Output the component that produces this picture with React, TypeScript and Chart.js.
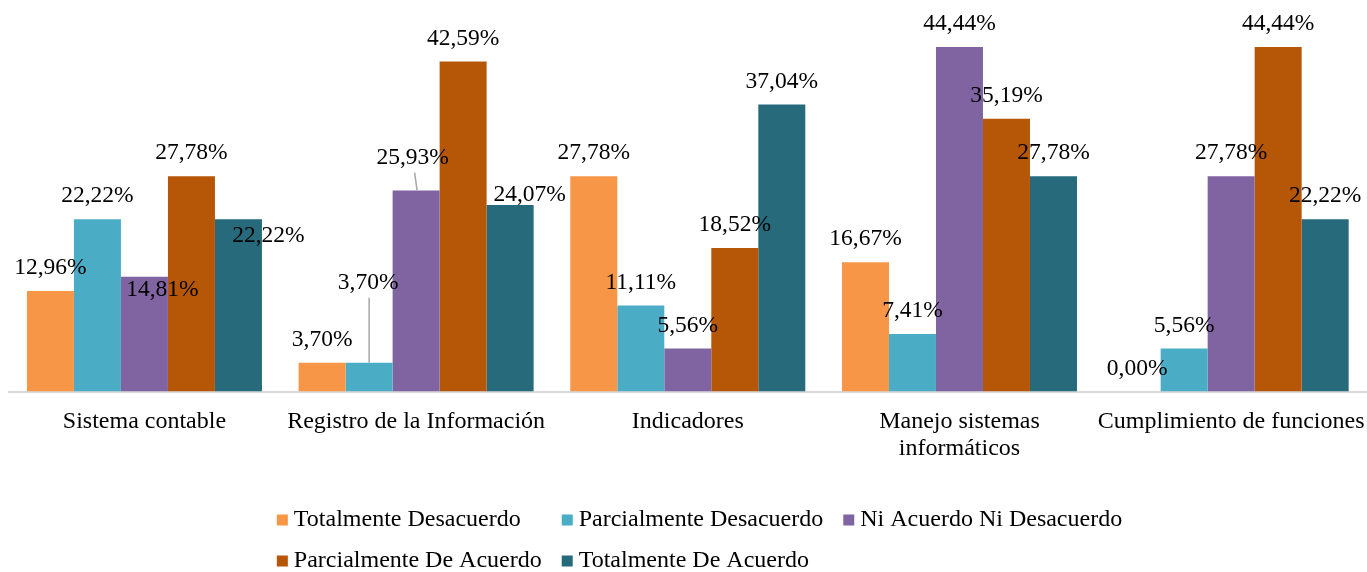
import React, { useEffect, useRef } from "react";
import { Chart, registerables } from "chart.js";

Chart.register(...registerables);

const categories: (string | string[])[] = [
  "Sistema contable",
  "Registro de la Información",
  "Indicadores",
  ["Manejo sistemas", "informáticos"],
  "Cumplimiento de funciones",
];

const seriesNames = [
  "Totalmente Desacuerdo",
  "Parcialmente Desacuerdo",
  "Ni Acuerdo Ni Desacuerdo",
  "Parcialmente De Acuerdo",
  "Totalmente De Acuerdo",
];

const totalmenteDesacuerdo = [12.96, 3.7, 27.78, 16.67, 0.0];
const parcialmenteDesacuerdo = [22.22, 3.7, 11.11, 7.41, 5.56];
const niAcuerdoNiDesacuerdo = [14.81, 25.93, 5.56, 44.44, 27.78];
const parcialmenteDeAcuerdo = [27.78, 42.59, 18.52, 35.19, 44.44];
const totalmenteDeAcuerdo = [22.22, 24.07, 37.04, 27.78, 22.22];

const seriesColors = ["#F79646", "#4BACC6", "#8064A2", "#B65708", "#276A7C"];

const FONT = "'Liberation Serif', 'Times New Roman', serif";

// label nudges (dx, dy) relative to default "above bar" placement, plus optional leader lines
const labelNudges: Record<string, { dx: number; dy: number; leader?: boolean }> = {
  "2-0": { dx: 18, dy: 36 },
  "4-0": { dx: 30, dy: 40 },
  "1-1": { dx: -1, dy: -57, leader: true },
  "2-1": { dx: -3.5, dy: -10, leader: true },
  "4-1": { dx: 19.5, dy: 13 },
};

const fmt = (v: number) => v.toFixed(2).replace(".", ",") + "%";

const labelPlugin = {
  id: "barLabels",
  afterDatasetsDraw(chart: any) {
    const ctx = chart.ctx;
    ctx.save();
    ctx.font = `23.5px ${FONT}`;
    ctx.fillStyle = "#000";
    ctx.textAlign = "center";
    ctx.textBaseline = "middle";
    chart.data.datasets.forEach((ds: any, i: number) => {
      const meta = chart.getDatasetMeta(i);
      meta.data.forEach((el: any, j: number) => {
        const v = ds.data[j];
        const n = labelNudges[`${i}-${j}`] || { dx: 0, dy: 0 };
        const x = el.x + n.dx;
        const y = el.y - 23 + n.dy;
        if (n.leader) {
          ctx.save();
          ctx.strokeStyle = "#A6A6A6";
          ctx.lineWidth = 1.5;
          ctx.beginPath();
          const sy = y + 15;
          if (Math.abs(n.dx) < 2) {
            ctx.moveTo(el.x, sy);
            ctx.lineTo(el.x, el.y);
          } else {
            ctx.moveTo(x + 2, sy);
            ctx.lineTo(el.x + 1, el.y);
          }
          ctx.stroke();
          ctx.restore();
        }
        ctx.fillText(fmt(v), x, y);
      });
    });
    ctx.restore();
  },
};

const legendPlugin = {
  id: "gridLegend",
  afterDraw(chart: any) {
    const ctx = chart.ctx;
    ctx.save();
    ctx.font = `24px ${FONT}`;
    ctx.textBaseline = "middle";
    ctx.textAlign = "left";
    const cols = 3;
    const boxOffset = 17;
    const gap = 20;
    const widths: number[] = [];
    seriesNames.forEach((name, i) => {
      const c = i % cols;
      const w = ctx.measureText(name).width + boxOffset;
      widths[c] = Math.max(widths[c] || 0, w);
    });
    const total = widths.reduce((a, b) => a + b, 0) + gap * (cols - 1);
    const startX = chart.width / 2 + 16 - total / 2;
    const rowY = [520, 561];
    seriesNames.forEach((name, i) => {
      const c = i % cols;
      const r = Math.floor(i / cols);
      let x = startX;
      for (let k = 0; k < c; k++) x += widths[k] + gap;
      const y = rowY[r];
      ctx.fillStyle = seriesColors[i];
      ctx.fillRect(x, y - 5.5, 11, 11);
      ctx.fillStyle = "#000";
      ctx.fillText(name, x + boxOffset, y);
    });
    ctx.restore();
  },
};

export default function App() {
  const ref = useRef<HTMLCanvasElement | null>(null);

  useEffect(() => {
    if (!ref.current) return;
    const data = [
      totalmenteDesacuerdo,
      parcialmenteDesacuerdo,
      niAcuerdoNiDesacuerdo,
      parcialmenteDeAcuerdo,
      totalmenteDeAcuerdo,
    ];
    const chart = new Chart(ref.current, {
      type: "bar",
      data: {
        labels: categories,
        datasets: data.map((d, i) => ({
          label: seriesNames[i],
          data: d,
          backgroundColor: seriesColors[i],
          borderWidth: 0,
          barPercentage: 1,
          categoryPercentage: 0.865,
        })),
      },
      options: {
        animation: false,
        responsive: false,
        layout: { padding: { top: 4, left: 8.6, right: 0, bottom: 100.5 } },
        plugins: {
          legend: { display: false },
          tooltip: { enabled: false },
        },
        scales: {
          x: {
            grid: { display: false },
            border: { display: true, color: "#D9D9D9", width: 2 },
            afterFit: (scale: any) => {
              scale.paddingLeft = 0;
              scale.paddingRight = 0;
            },
            ticks: {
              color: "#000",
              padding: 9,
              maxRotation: 0,
              autoSkip: false,
              font: { family: FONT, size: 24, lineHeight: 1.125 },
            },
          },
          y: {
            display: false,
            min: 0,
            max: 50,
          },
        },
      },
      plugins: [labelPlugin, legendPlugin],
    });
    return () => chart.destroy();
  }, []);

  return (
    <div style={{ position: "fixed", left: 0, top: 0, width: 1367, height: 572, background: "#fff" }}>
      <canvas ref={ref} width={1367} height={572} style={{ display: "block" }} />
    </div>
  );
}
